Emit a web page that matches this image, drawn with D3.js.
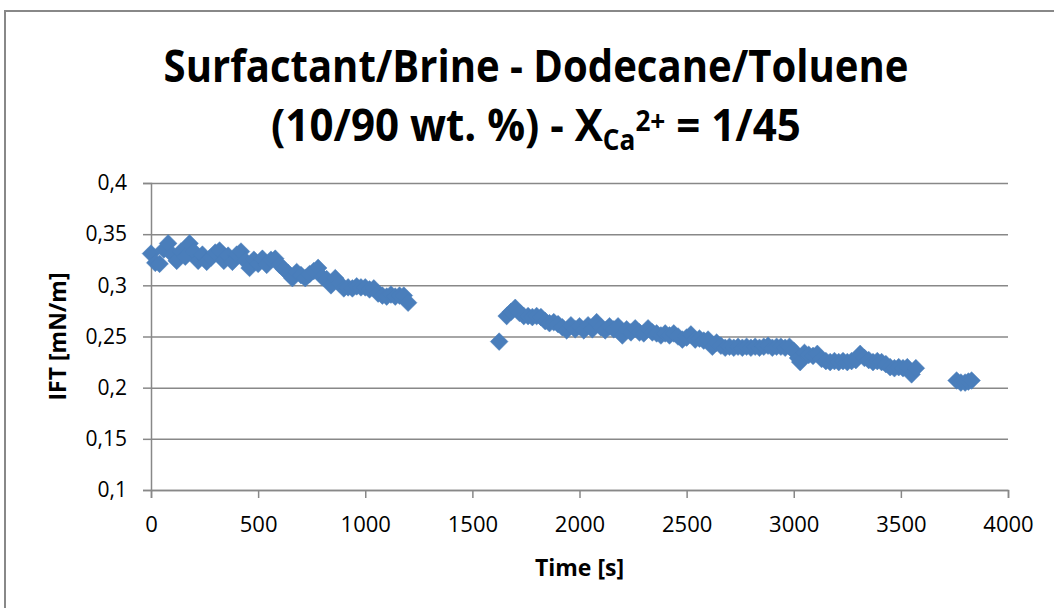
<!DOCTYPE html>
<html>
<head>
<meta charset="utf-8">
<script src="https://d3js.org/d3.v7.min.js"></script>
<style>
  body { margin: 0; background: #ffffff; }
  text { font-family: "Open Sans", "Noto Sans", sans-serif; fill: #000000; }
  .axis-title { font-size: 23px; font-weight: 700; }
  .chart-title { font-size: 45px; font-weight: 700; }
</style>
</head>
<body>
<div id="chart"></div>
<script>
// IFT readings, three runs of measurements (time in s, IFT in mN/m)
const run1Time = [0, 20, 40, 60, 80, 100, 120, 140, 160, 180, 200, 220, 240, 260, 280, 300, 320, 340, 360, 380,
  400, 420, 440, 460, 480, 500, 520, 540, 560, 580, 600, 620, 640, 660, 680, 700, 720, 740, 760, 780,
  800, 820, 840, 860, 880, 900, 920, 940, 960, 980, 1000, 1020, 1040, 1060, 1080, 1100, 1120, 1140, 1160, 1180, 1200];
const run1Ift = [0.331, 0.322, 0.321, 0.335, 0.341, 0.330, 0.324, 0.333, 0.328, 0.341, 0.333, 0.324, 0.330, 0.323, 0.327, 0.332, 0.334, 0.324, 0.329, 0.323,
  0.330, 0.333, 0.324, 0.317, 0.325, 0.321, 0.326, 0.320, 0.325, 0.326, 0.320, 0.316, 0.312, 0.307, 0.313, 0.310, 0.307, 0.311, 0.314, 0.317,
  0.308, 0.306, 0.300, 0.307, 0.302, 0.297, 0.298, 0.297, 0.299, 0.298, 0.298, 0.296, 0.297, 0.292, 0.290, 0.289, 0.291, 0.289, 0.290, 0.290, 0.283];

const run2Time = [1625, 1660, 1680, 1700, 1720, 1740, 1760, 1780, 1800, 1820, 1840, 1860, 1880, 1900, 1920, 1940, 1960, 1980,
  2000, 2020, 2040, 2060, 2080, 2100, 2120, 2140, 2160, 2180, 2200, 2220, 2240, 2260, 2280, 2300, 2320, 2340, 2360, 2380,
  2400, 2420, 2440, 2460, 2480, 2500, 2520, 2540, 2560, 2580, 2600, 2620, 2640, 2660, 2680, 2700, 2720, 2740, 2760, 2780,
  2800, 2820, 2840, 2860, 2880, 2900, 2920, 2940, 2960, 2980, 3000, 3020, 3030, 3050, 3070, 3090, 3110, 3130, 3150, 3170, 3190,
  3210, 3230, 3250, 3270, 3290, 3310, 3330, 3350, 3370, 3390, 3410, 3430, 3450, 3470, 3490, 3510, 3530, 3550, 3570];
const run2Ift = [0.245, 0.270, 0.274, 0.278, 0.273, 0.270, 0.270, 0.269, 0.270, 0.269, 0.265, 0.263, 0.264, 0.262, 0.259, 0.256, 0.261, 0.257,
  0.260, 0.256, 0.261, 0.257, 0.264, 0.259, 0.256, 0.260, 0.257, 0.260, 0.251, 0.257, 0.254, 0.258, 0.254, 0.253, 0.258, 0.254, 0.253, 0.251,
  0.253, 0.251, 0.253, 0.250, 0.247, 0.249, 0.252, 0.247, 0.248, 0.246, 0.247, 0.240, 0.244, 0.241, 0.239, 0.240, 0.239, 0.240, 0.239, 0.240,
  0.239, 0.240, 0.239, 0.240, 0.241, 0.239, 0.240, 0.240, 0.239, 0.240, 0.236, 0.229, 0.225, 0.234, 0.232, 0.231, 0.233, 0.228, 0.226, 0.225, 0.226,
  0.225, 0.226, 0.225, 0.226, 0.227, 0.233, 0.229, 0.227, 0.225, 0.226, 0.225, 0.223, 0.220, 0.219, 0.220, 0.219, 0.220, 0.213, 0.219];

const run3Time = [3760, 3780, 3800, 3815, 3830];
const run3Ift = [0.207, 0.205, 0.205, 0.206, 0.207];

const xTicks = [0, 500, 1000, 1500, 2000, 2500, 3000, 3500, 4000];
const yTicks = [0.1, 0.15, 0.2, 0.25, 0.3, 0.35, 0.4];

const W = 1054, H = 608;
const margin = {top: 183, right: 46, bottom: 118, left: 151};
const width = W - margin.left - margin.right;
const height = H - margin.top - margin.bottom;

const points = []
  .concat(run1Time.map((t, i) => ({t: t, v: run1Ift[i]})))
  .concat(run2Time.map((t, i) => ({t: t, v: run2Ift[i]})))
  .concat(run3Time.map((t, i) => ({t: t, v: run3Ift[i]})));

const svg = d3.select("#chart").append("svg")
  .attr("width", W)
  .attr("height", H);

// chart area border
svg.append("rect")
  .attr("x", 5).attr("y", 11)
  .attr("width", W + 10).attr("height", H + 10)
  .attr("fill", "none")
  .attr("stroke", "#888888")
  .attr("stroke-width", 2);

const g = svg.append("g").attr("transform", `translate(${margin.left},${margin.top})`);

const x = d3.scaleLinear().domain([0, 4000]).range([0, width]);
const y = d3.scaleLinear().domain([0.1, 0.4]).range([height, 0]);
const fmt = d => String(+d.toFixed(2)).replace(".", ",");

// gridlines
g.append("g")
  .call(d3.axisLeft(y).tickValues(yTicks).tickSize(-width).tickFormat(""))
  .call(s => s.select(".domain").remove())
  .call(s => s.selectAll("line").attr("stroke", "#888888").attr("stroke-width", 1.5));

// y axis
g.append("g")
  .call(d3.axisLeft(y).tickValues(yTicks).tickSize(8).tickPadding(16).tickFormat(fmt))
  .call(s => s.select(".domain").attr("stroke", "#888888").attr("stroke-width", 1.5))
  .call(s => s.selectAll("line").attr("stroke", "#888888").attr("stroke-width", 1.5))
  .call(s => s.selectAll("text").style("font-size", "21px").attr("fill", "#000"));

// x axis
g.append("g")
  .attr("transform", `translate(0,${height})`)
  .call(d3.axisBottom(x).tickValues(xTicks).tickSize(8).tickPadding(18).tickFormat(d3.format("d")))
  .call(s => s.select(".domain").attr("stroke", "#888888").attr("stroke-width", 1.5))
  .call(s => s.selectAll("line").attr("stroke", "#888888").attr("stroke-width", 1.5))
  .call(s => s.selectAll("text").style("font-size", "22px").attr("fill", "#000"));

// diamond markers
const diamond = d3.symbol().type(d3.symbolDiamond2).size(200);
g.selectAll("path.pt")
  .data(points)
  .join("path")
  .attr("class", "pt")
  .attr("transform", d => `translate(${x(d.t)},${y(d.v)})`)
  .attr("d", diamond)
  .attr("fill", "#4a7ebb")
  .attr("stroke", "#4a7ebb")
  .attr("stroke-width", 0.5);

// axis titles
svg.append("text")
  .attr("class", "axis-title")
  .attr("x", margin.left + width / 2)
  .attr("y", 576)
  .attr("text-anchor", "middle")
  .text("Time [s]");

svg.append("text")
  .attr("class", "axis-title")
  .attr("transform", `translate(66,${margin.top + height / 2}) rotate(-90)`)
  .attr("text-anchor", "middle")
  .text("IFT [mN/m]");

// title, squeezed horizontally to the narrow width of the original font
function fitLine(sel, cx, targetW) {
  const w = sel.node().getComputedTextLength();
  const sx = targetW / w;
  sel.attr("x", 0).attr("text-anchor", "middle")
    .attr("transform", `translate(${cx},0) scale(${sx},1)`);
}

const t1 = svg.append("text")
  .attr("class", "chart-title")
  .attr("y", 82)
  .text("Surfactant/Brine - Dodecane/Toluene");
fitLine(t1, 536, 745);

const t2 = svg.append("text")
  .attr("class", "chart-title")
  .attr("y", 141);
t2.append("tspan").text("(10/90 wt. %) - X");
t2.append("tspan").attr("dy", 9).style("font-size", "28px").text("Ca");
t2.append("tspan").attr("dy", -19).style("font-size", "28px").text("2+");
t2.append("tspan").attr("dy", 10).text(" = 1/45");
fitLine(t2, 536, 530);
</script>
</body>
</html>
